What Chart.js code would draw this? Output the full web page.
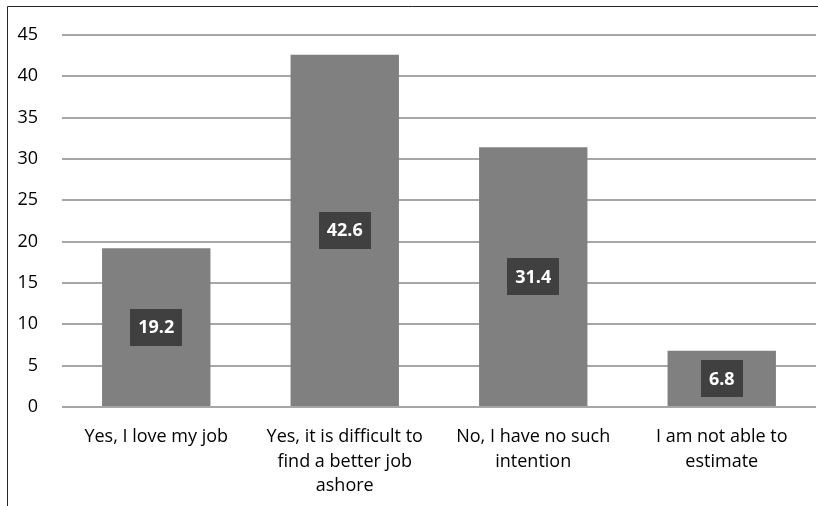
<!DOCTYPE html>
<html>
<head>
<meta charset="utf-8">
<script src="https://cdn.jsdelivr.net/npm/chart.js@4"></script>
<style>
  html, body { margin: 0; padding: 0; background: #fff; }
  #wrap { width: 818px; height: 506px; }
</style>
</head>
<body>
<div id="wrap"><canvas id="chart" width="818" height="506"></canvas></div>
<script>
const categories = [
  ['Yes, I love my job'],
  ['Yes, it is difficult to', 'find a better job', 'ashore'],
  ['No, I have no such', 'intention'],
  ['I am not able to', 'estimate']
];
const values = [19.2, 42.6, 31.4, 6.8];
const yTicks = [0, 5, 10, 15, 20, 25, 30, 35, 40, 45];

const FONT = '"Open Sans", Lato, sans-serif';

// frame on the left and top, as in the original crop
const framePlugin = {
  id: 'frame',
  afterDraw(chart) {
    const ctx = chart.ctx;
    ctx.save();
    ctx.strokeStyle = '#262626';
    ctx.lineWidth = 1;
    ctx.beginPath();
    ctx.moveTo(7.5, chart.height);
    ctx.lineTo(7.5, 6.5);
    ctx.lineTo(chart.width, 6.5);
    ctx.stroke();
    ctx.restore();
  }
};

// value boxes in the middle of each bar
const boxLabels = {
  id: 'boxLabels',
  afterDatasetsDraw(chart) {
    const ctx = chart.ctx;
    const meta = chart.getDatasetMeta(0);
    ctx.save();
    ctx.font = 'bold 18px ' + FONT;
    ctx.textAlign = 'center';
    ctx.textBaseline = 'middle';
    meta.data.forEach((bar, i) => {
      const text = String(values[i]);
      const mid = (bar.y + bar.base) / 2;
      const w = ctx.measureText(text).width + 16;
      const h = 37;
      ctx.fillStyle = '#404040';
      ctx.fillRect(Math.round(bar.x - w / 2), Math.round(mid - h / 2), Math.round(w), h);
      ctx.fillStyle = '#ffffff';
      ctx.fillText(text, bar.x, mid + 1);
    });
    ctx.restore();
  }
};

new Chart(document.getElementById('chart'), {
  type: 'bar',
  data: {
    labels: categories,
    datasets: [{
      data: values,
      backgroundColor: '#808080',
      categoryPercentage: 1,
      barPercentage: 0.575
    }]
  },
  options: {
    responsive: false,
    animation: false,
    layout: { padding: { top: 33, right: 2, left: 0, bottom: 0 } },
    plugins: { legend: { display: false }, tooltip: { enabled: false } },
    scales: {
      x: {
        grid: { display: false, drawTicks: false },
        border: { display: false },
        ticks: {
          color: '#000',
          font: { family: FONT, size: 18, lineHeight: 1.36 },
          padding: 18,
          maxRotation: 0,
          autoSkip: false
        },
        afterFit(scale) { scale.height = 99; }
      },
      y: {
        min: 0,
        max: 45,
        afterBuildTicks(scale) { scale.ticks = yTicks.map(v => ({ value: v })); },
        grid: { color: '#a6a6a6', lineWidth: 2, drawTicks: false },
        border: { display: false },
        ticks: {
          color: '#000',
          font: { family: FONT, size: 18 },
          padding: 24
        },
        afterFit(scale) { scale.width = 62; }
      }
    }
  },
  plugins: [framePlugin, boxLabels]
});
</script>
</body>
</html>
